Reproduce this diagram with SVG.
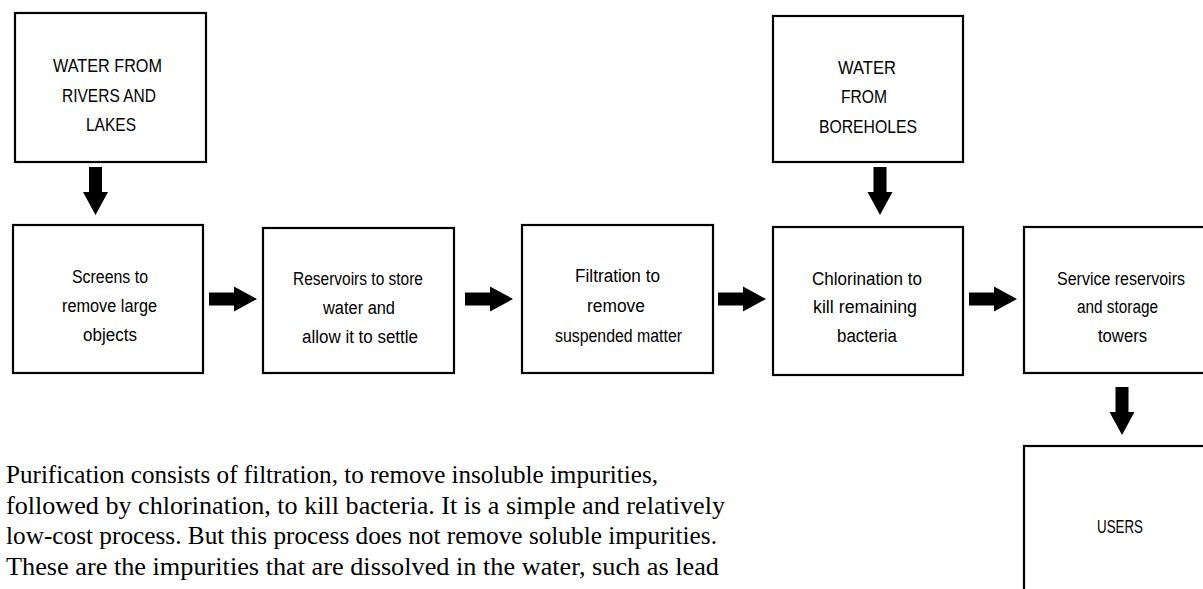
<svg xmlns="http://www.w3.org/2000/svg" xmlns:xlink="http://www.w3.org/1999/xlink" width="1203" height="589" viewBox="0 0 1203 589">
<style>
.box{fill:#fff;stroke:#000;stroke-width:2.2}
.lbl{font-family:"Liberation Sans",Arial,sans-serif;font-size:18px;fill:#000;text-anchor:middle}
.para{font-family:"Liberation Serif","Times New Roman",serif;font-size:26px;fill:#000}
.arr{fill:#000}
</style>
<defs>
<path id="arrowDown" d="M-6.5,0 H6.5 V25 H12.5 L0,48 L-12.5,25 H-6.5 Z"/>
</defs>
<rect width="1203" height="589" fill="#fff"/>
<g id="node-rivers">
<rect class="box" x="15" y="13" width="191" height="149"/>
<text class="lbl" x="107.5" y="72" textLength="109" lengthAdjust="spacingAndGlyphs">WATER FROM</text>
<text class="lbl" x="109" y="102" textLength="94" lengthAdjust="spacingAndGlyphs">RIVERS AND</text>
<text class="lbl" x="111" y="131" textLength="50" lengthAdjust="spacingAndGlyphs">LAKES</text>
</g>
<g id="node-boreholes">
<rect class="box" x="773" y="16" width="190" height="146"/>
<text class="lbl" x="867" y="74" textLength="58" lengthAdjust="spacingAndGlyphs">WATER</text>
<text class="lbl" x="864" y="103" textLength="46" lengthAdjust="spacingAndGlyphs">FROM</text>
<text class="lbl" x="868" y="133" textLength="98" lengthAdjust="spacingAndGlyphs">BOREHOLES</text>
</g>
<g id="node-screens">
<rect class="box" x="13" y="225" width="190" height="148"/>
<text class="lbl" x="110" y="283" textLength="76" lengthAdjust="spacingAndGlyphs">Screens to</text>
<text class="lbl" x="109.5" y="312" textLength="95" lengthAdjust="spacingAndGlyphs">remove large</text>
<text class="lbl" x="110" y="341" textLength="54" lengthAdjust="spacingAndGlyphs">objects</text>
</g>
<g id="node-reservoirs">
<rect class="box" x="263" y="228" width="191" height="145"/>
<text class="lbl" x="358" y="285" textLength="130" lengthAdjust="spacingAndGlyphs">Reservoirs to store</text>
<text class="lbl" x="359" y="314" textLength="72" lengthAdjust="spacingAndGlyphs">water and</text>
<text class="lbl" x="360" y="343" textLength="116" lengthAdjust="spacingAndGlyphs">allow it to settle</text>
</g>
<g id="node-filtration">
<rect class="box" x="522" y="225" width="191" height="148"/>
<text class="lbl" x="617.5" y="282" textLength="85" lengthAdjust="spacingAndGlyphs">Filtration to</text>
<text class="lbl" x="616" y="312" textLength="58" lengthAdjust="spacingAndGlyphs">remove</text>
<text class="lbl" x="618.5" y="342" textLength="127" lengthAdjust="spacingAndGlyphs">suspended matter</text>
</g>
<g id="node-chlorination">
<rect class="box" x="773" y="227" width="190" height="148"/>
<text class="lbl" x="867" y="285" textLength="110" lengthAdjust="spacingAndGlyphs">Chlorination to</text>
<text class="lbl" x="865" y="313" textLength="104" lengthAdjust="spacingAndGlyphs">kill remaining</text>
<text class="lbl" x="867" y="342" textLength="60" lengthAdjust="spacingAndGlyphs">bacteria</text>
</g>
<g id="node-service">
<rect class="box" x="1024" y="227" width="194" height="146"/>
<text class="lbl" x="1121" y="285" textLength="128" lengthAdjust="spacingAndGlyphs">Service reservoirs</text>
<text class="lbl" x="1117.5" y="313" textLength="81" lengthAdjust="spacingAndGlyphs">and storage</text>
<text class="lbl" x="1122.5" y="342" textLength="49" lengthAdjust="spacingAndGlyphs">towers</text>
</g>
<g id="node-users">
<rect class="box" x="1024" y="446" width="194" height="170"/>
<text class="lbl" x="1120" y="533" textLength="46" lengthAdjust="spacingAndGlyphs">USERS</text>
</g>
<g id="connectors" class="arr">
<use xlink:href="#arrowDown" transform="translate(95.5,167)"/>
<use xlink:href="#arrowDown" transform="translate(880,167)"/>
<use xlink:href="#arrowDown" transform="translate(1122,387)"/>
<use xlink:href="#arrowDown" transform="translate(209,299) rotate(-90)"/>
<use xlink:href="#arrowDown" transform="translate(465,299) rotate(-90)"/>
<use xlink:href="#arrowDown" transform="translate(718,299) rotate(-90)"/>
<use xlink:href="#arrowDown" transform="translate(969,299) rotate(-90)"/>
</g>
<g id="paragraph">
<text class="para" x="6" y="483" textLength="652" lengthAdjust="spacingAndGlyphs">Purification consists of filtration, to remove insoluble impurities,</text>
<text class="para" x="6" y="513.5" textLength="719" lengthAdjust="spacingAndGlyphs">followed by chlorination, to kill bacteria. It is a simple and relatively</text>
<text class="para" x="6" y="544" textLength="711" lengthAdjust="spacingAndGlyphs">low-cost process. But this process does not remove soluble impurities.</text>
<text class="para" x="6" y="574.5" textLength="713" lengthAdjust="spacingAndGlyphs">These are the impurities that are dissolved in the water, such as lead</text>
</g>
</svg>
